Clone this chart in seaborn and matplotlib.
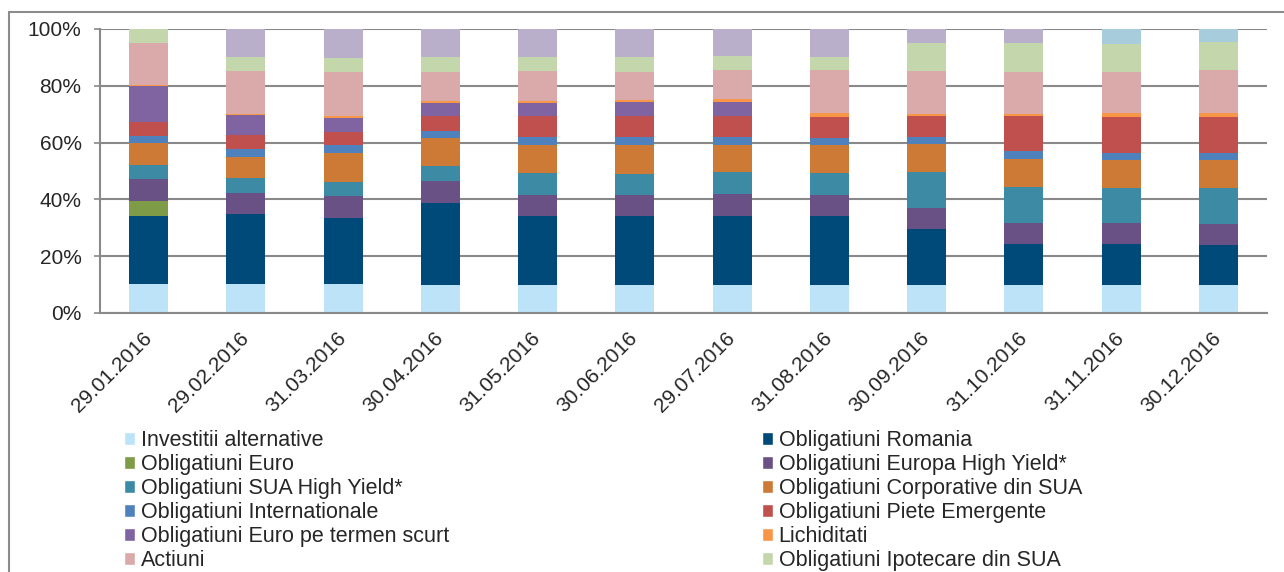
import numpy as np
import pandas as pd
import matplotlib
matplotlib.use("Agg")
import matplotlib.pyplot as plt
from matplotlib.patches import Patch, Rectangle
import seaborn as sns

dates = ["29.01.2016", "29.02.2016", "31.03.2016", "30.04.2016", "31.05.2016", "30.06.2016",
         "29.07.2016", "31.08.2016", "30.09.2016", "31.10.2016", "31.11.2016", "30.12.2016"]

# shares in %, bottom to top
inv_alt = [10.2, 10.2, 10.2, 9.7, 9.7, 9.7, 9.7, 9.7, 9.7, 9.8, 9.8, 9.7]
oblig_ro = [24.0, 24.5, 23.4, 29.2, 24.3, 24.3, 24.6, 24.3, 19.8, 14.5, 14.5, 14.1]
oblig_euro = [5.3, 0, 0, 0, 0, 0, 0, 0, 0, 0, 0, 0]
europa_hy = [7.7, 7.7, 7.5, 7.6, 7.7, 7.4, 7.7, 7.7, 7.4, 7.5, 7.4, 7.6]
sua_hy = [5.0, 5.0, 5.2, 5.2, 7.5, 7.5, 7.5, 7.5, 12.7, 12.6, 12.4, 12.6]
corp_sua = [7.6, 7.6, 10.1, 10.0, 10.1, 10.3, 9.8, 9.9, 10.0, 10.0, 9.9, 9.8]
internationale = [2.5, 2.6, 2.6, 2.5, 2.6, 2.7, 2.6, 2.4, 2.4, 2.6, 2.4, 2.5]
piete_em = [5.0, 5.0, 4.9, 5.1, 7.4, 7.6, 7.4, 7.4, 7.5, 12.4, 12.5, 12.6]
euro_scurt = [12.7, 7.2, 4.9, 4.8, 4.8, 4.9, 4.9, 0, 0, 0, 0, 0]
lichiditati = [0.3, 0.3, 0.5, 0.6, 0.7, 0.6, 1.2, 1.5, 0.7, 0.6, 1.4, 1.4]
actiuni = [14.8, 15.2, 15.6, 10.3, 10.4, 10.0, 10.1, 15.1, 14.9, 15.0, 14.7, 15.2]
ipotecare = [4.9, 5.0, 5.0, 5.0, 5.0, 5.0, 5.1, 4.8, 10.0, 10.1, 9.8, 9.8]
# two top series whose legend rows fall below the picture edge
altele_1 = [0, 9.7, 10.1, 10.0, 9.8, 10.0, 9.4, 9.7, 4.9, 4.9, 0, 0]
altele_2 = [0, 0, 0, 0, 0, 0, 0, 0, 0, 0, 5.2, 4.7]

series = [
    ("Investitii alternative", inv_alt, "#BDE3F8"),
    ("Obligatiuni Romania", oblig_ro, "#004A7A"),
    ("Obligatiuni Euro", oblig_euro, "#7E9B48"),
    ("Obligatiuni Europa High Yield*", europa_hy, "#6A5185"),
    ("Obligatiuni SUA High Yield*", sua_hy, "#3C8AA3"),
    ("Obligatiuni Corporative din SUA", corp_sua, "#CC7A36"),
    ("Obligatiuni Internationale", internationale, "#4F81BD"),
    ("Obligatiuni Piete Emergente", piete_em, "#C0504D"),
    ("Obligatiuni Euro pe termen scurt", euro_scurt, "#8064A2"),
    ("Lichiditati", lichiditati, "#F79646"),
    ("Actiuni", actiuni, "#DAA9A9"),
    ("Obligatiuni Ipotecare din SUA", ipotecare, "#C4D6AC"),
    ("Altele 1", altele_1, "#B9AFCB"),
    ("Altele 2", altele_2, "#A7CDDD"),
]

df = pd.DataFrame({name: vals for name, vals, _ in series}, index=dates)
df = df.div(df.sum(axis=1), axis=0) * 100

sns.set_style("white")
plt.rcParams["font.family"] = ["Liberation Sans", "DejaVu Sans"]

fig = plt.figure(figsize=(12.84, 5.72), dpi=100)
ax = fig.add_axes([100 / 1284, 1 - 313 / 572, 1167 / 1284, 284 / 572])

bottom = np.zeros(len(dates))
for name, _, color in series:
    vals = df[name].values
    sns.barplot(x=dates, y=vals, bottom=bottom, color=color, saturation=1,
                width=0.4, linewidth=0, ax=ax)
    bottom += vals

grid_col = "#898989"
ax.set_ylim(0, 100)
ax.set_xlim(-0.5, len(dates) - 0.5)
ax.set_yticks(range(0, 101, 20))
ax.set_yticklabels([f"{v}%" for v in range(0, 101, 20)], fontsize=15)
ax.yaxis.grid(True, color=grid_col, linewidth=1.5)
ax.set_axisbelow(True)
ax.set_xticks(range(len(dates)))
ax.set_xticklabels(dates, rotation=45, ha="right", va="center",
                   rotation_mode="anchor", fontsize=15)
ax.set_xticks(np.arange(-0.5, len(dates)), minor=True)
ax.tick_params(axis="x", which="major", length=0, pad=16)
ax.tick_params(axis="x", which="minor", length=4, width=1.2, color=grid_col, direction="out")
ax.tick_params(axis="y", length=4.3, width=1.2, color=grid_col, direction="out", left=True, pad=9)
ax.set_xlabel("")
ax.set_ylabel("")
for side in ["top", "right"]:
    ax.spines[side].set_visible(False)
for side in ["left", "bottom"]:
    ax.spines[side].set_color(grid_col)
    ax.spines[side].set_linewidth(1.5)

# legend: Excel fills rows left to right, here split into two columns
handles = [Patch(facecolor=c, label=n) for n, _, c in series[:12]]
left_col = handles[0::2]
right_col = handles[1::2]
kw = dict(loc="upper left", frameon=False, fontsize=15.5, handlelength=0.52,
          handleheight=0.55, handletextpad=0.25, labelspacing=0.14, borderpad=0,
          borderaxespad=0)
fig.legend(handles=left_col, bbox_to_anchor=(124 / 1284, 1 - 430 / 572), **kw)
fig.legend(handles=right_col, bbox_to_anchor=(762 / 1284, 1 - 430 / 572), **kw)

# chart area frame
fig.patches.append(Rectangle((9 / 1284, -0.2), 1.5, 1.2 - 12 / 572, transform=fig.transFigure,
                             fill=False, edgecolor="#8C8C8C", linewidth=1.5))

fig.savefig("out.png", dpi=100)
